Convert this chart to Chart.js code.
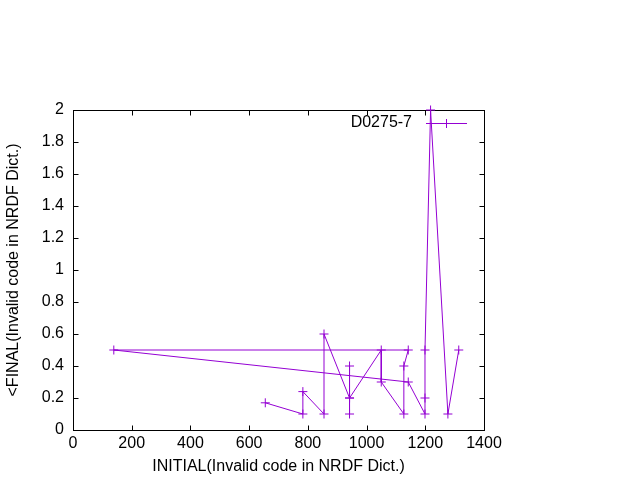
<!DOCTYPE html>
<html>
<head>
<meta charset="utf-8">
<script src="https://cdn.jsdelivr.net/npm/chart.js@4"></script>
<style>
  body { margin: 0; background: #fff; }
  #wrap { width: 640px; height: 480px; }
</style>
</head>
<body>
<div id="wrap"><canvas id="plot" width="640" height="480"></canvas></div>
<script>
// Data, in the order the line visits the points
const initialCodes = [655, 783, 783, 855, 855, 942, 942, 942, 942, 1050, 1050, 1127, 1127, 1142, 139, 1142, 1199, 1199, 1199, 1218, 1277, 1314];
const finalCodes = [0.17, 0.1, 0.24, 0.1, 0.6, 0.2, 0.4, 0.1, 0.2, 0.5, 0.3, 0.1, 0.4, 0.5, 0.5, 0.3, 0.1, 0.2, 0.5, 2.0, 0.1, 0.5];
const seriesName = "D0275-7";
const xTicks = [0, 200, 400, 600, 800, 1000, 1200, 1400];
const yTicks = [0, 0.2, 0.4, 0.6, 0.8, 1, 1.2, 1.4, 1.6, 1.8, 2];

const purple = "#9400d3";
const fontFamily = "'Liberation Sans', Arial, sans-serif";
const fontSize = 16;
const tickLen = 5;

// Border box with inward ticks on all four sides (gnuplot look)
const frame = {
  id: "frame",
  beforeDatasetsDraw(chart) {
    const { ctx, chartArea: a, scales } = chart;
    const l = Math.round(a.left) + 0.5, r = Math.round(a.right) + 0.5;
    const t = Math.round(a.top) + 0.5, b = Math.round(a.bottom) + 0.5;
    ctx.save();
    ctx.strokeStyle = "#000";
    ctx.lineWidth = 1;
    ctx.strokeRect(l, t, r - l, b - t);
    ctx.beginPath();
    xTicks.forEach((v) => {
      const px = Math.round(scales.x.getPixelForValue(v)) + 0.5;
      ctx.moveTo(px, b); ctx.lineTo(px, b - tickLen);
      ctx.moveTo(px, t); ctx.lineTo(px, t + tickLen);
    });
    yTicks.forEach((v) => {
      const py = Math.round(scales.y.getPixelForValue(v)) + 0.5;
      ctx.moveTo(l, py); ctx.lineTo(l + tickLen, py);
      ctx.moveTo(r, py); ctx.lineTo(r - tickLen, py);
    });
    ctx.stroke();
    ctx.restore();
  },
  afterDraw(chart) {
    // key in the top right corner
    const { ctx } = chart;
    const ky = 123.5;
    ctx.save();
    ctx.font = fontSize + "px " + fontFamily;
    ctx.fillStyle = "#000";
    ctx.textAlign = "right";
    ctx.textBaseline = "middle";
    ctx.fillText(seriesName, 412, ky - 1);
    ctx.strokeStyle = purple;
    ctx.lineWidth = 1;
    ctx.beginPath();
    ctx.moveTo(426, ky); ctx.lineTo(467, ky);
    ctx.moveTo(442, ky); ctx.lineTo(451, ky);
    ctx.moveTo(446.5, ky - 4.5); ctx.lineTo(446.5, ky + 4.5);
    ctx.stroke();
    ctx.restore();
  },
};

const ctx = document.getElementById("plot").getContext("2d");
new Chart(ctx, {
  type: "scatter",
  data: {
    datasets: [
      {
        label: seriesName,
        data: initialCodes.map((x, i) => ({ x: x, y: finalCodes[i] })),
        showLine: true,
        tension: 0,
        borderColor: purple,
        backgroundColor: purple,
        borderWidth: 1,
        pointStyle: "cross",
        pointRadius: 4.5,
        pointBorderWidth: 1,
        pointBorderColor: purple,
        clip: false,
      },
    ],
  },
  options: {
    responsive: false,
    animation: false,
    devicePixelRatio: 1,
    layout: { padding: { left: 0, right: 156, top: 110, bottom: 0 } },
    plugins: { legend: { display: false }, tooltip: { enabled: false } },
    scales: {
      x: {
        type: "linear",
        min: 0,
        max: 1400,
        afterBuildTicks: (s) => { s.ticks = xTicks.map((v) => ({ value: v })); },
        afterFit: (s) => { s.height = 50; },
        grid: { display: false, drawTicks: false },
        border: { display: false },
        ticks: {
          padding: 4,
          color: "#000",
          font: { family: fontFamily, size: fontSize },
          callback: (v) => String(v),
          maxRotation: 0,
        },
        title: {
          display: true,
          text: "INITIAL(Invalid code in NRDF Dict.)",
          color: "#000",
          font: { family: fontFamily, size: fontSize },
          padding: { top: 0, bottom: 4 },
        },
      },
      y: {
        type: "linear",
        min: 0,
        max: 2,
        afterBuildTicks: (s) => { s.ticks = yTicks.map((v) => ({ value: v })); },
        afterFit: (s) => { s.width = 73; },
        grid: { display: false, drawTicks: false },
        border: { display: false },
        ticks: {
          padding: 9,
          color: "#000",
          font: { family: fontFamily, size: fontSize },
          callback: (v) => String(v),
        },
        title: {
          display: true,
          text: "<FINAL(Invalid code in NRDF Dict.)",
          color: "#000",
          font: { family: fontFamily, size: fontSize },
          padding: { top: 4, bottom: 0 },
        },
      },
    },
  },
  plugins: [frame],
});
</script>
</body>
</html>
